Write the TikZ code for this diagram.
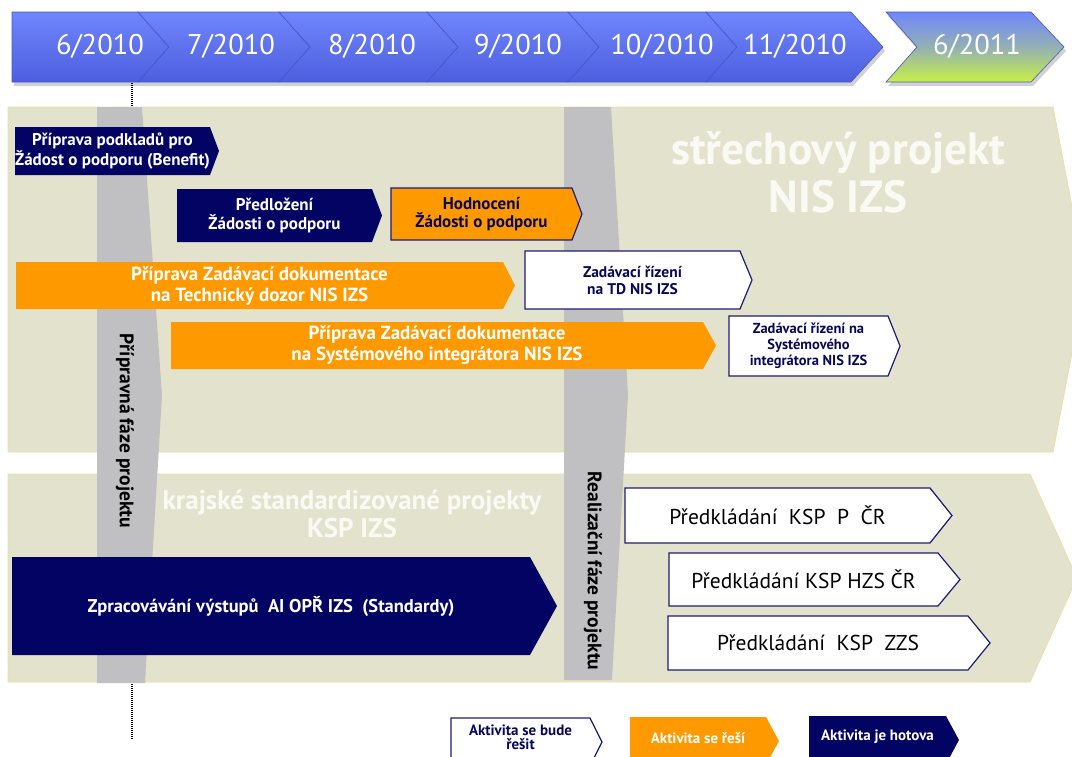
\documentclass[tikz,border=0pt]{standalone}
\usepackage{fontspec}
\setmainfont{PT Sans}
\usetikzlibrary{calc}
\definecolor{navy}{RGB}{3,3,100}
\definecolor{orangeC}{RGB}{255,153,0}
\definecolor{bandC}{RGB}{227,227,205}
\definecolor{bandline}{RGB}{234,224,165}
\definecolor{greybar}{RGB}{192,192,194}
\definecolor{boxline}{RGB}{28,28,120}
\definecolor{navytext}{RGB}{8,8,90}
\definecolor{tltop}{RGB}{112,134,252}
\definecolor{tlbot}{RGB}{76,94,222}
\definecolor{tledge}{RGB}{70,86,205}
\definecolor{limeC}{RGB}{200,240,70}
\definecolor{titleW}{RGB}{250,250,245}
\newcommand\actbox[9]{%
  \pgfmathsetmacro\ymid{(#7+#8)/2}%
  \pgfmathsetmacro\xmid{(#4+#5)/2}%
  \path[#2] (#4,#7) -- (#5,#7) -- (#6,\ymid) -- (#5,#8) -- (#4,#8) -- cycle;%
  \node[#3] (#1) at (\xmid,\ymid) {#9};%
}
\begin{document}
\begin{tikzpicture}[x=1pt,y=-1pt,
  navyfill/.style={fill=navy},
  orangefill/.style={fill=orangeC},
  orangeline/.style={fill=orangeC, draw=boxline, line width=1.2pt},
  whitefill/.style={fill=white, draw=boxline, line width=1.2pt},
  bfs/.style 2 args={font=\fontsize{#1}{#2}\bfseries\selectfont, align=center, inner sep=0pt},
  rfs/.style 2 args={font=\fontsize{#1}{#2}\selectfont, align=center, inner sep=0pt},
  wtxt/.style={text=white},
  ntxt/.style={text=navytext},
  ktxt/.style={text=black},
  tl/.style={top color=tltop, bottom color=tlbot, draw=tledge, line width=0.6pt},
  tllast/.style={top color=tltop, bottom color=limeC, middle color=tltop!60!limeC, draw=tledge, line width=0.6pt},
  tltext/.style={text=white, font=\fontsize{28.5}{30}\selectfont, inner sep=0pt},
  band/.style={fill=bandC, draw=bandline, line width=0.8pt},
  bar/.style={fill=greybar},
  bartext/.style={text=black, font=\fontsize{19.5}{20}\bfseries\selectfont, rotate=-90, inner sep=0pt},
  dotline/.style={draw=black, line width=1.4pt, dash pattern=on 1pt off 1pt},
  bigtitle/.style={text=titleW, align=center, inner sep=0pt}
]
\useasboundingbox (0,0) rectangle (1072,756);
\clip (0,0) rectangle (1072,756);
\fill[white] (0,0) rectangle (1072,756);

% ---- timeline ----
\fill[black, opacity=0.18] (14,16) -- (853,16) -- (885,51) -- (853,86) -- (14,86) -- cycle;
\fill[black, opacity=0.18] (888,16) -- (1033,16) -- (1066,51) -- (1033,86) -- (888,86) -- (919,51) -- cycle;
\path[tl] (12,12) -- (138,12) -- (169,47) -- (138,82) -- (12,82) -- cycle;
\path[tl] (138,12) -- (279,12) -- (310,47) -- (279,82) -- (138,82) -- (169,47) -- cycle;
\path[tl] (279,12) -- (427,12) -- (458,47) -- (427,82) -- (279,82) -- (310,47) -- cycle;
\path[tl] (427,12) -- (568,12) -- (599,47) -- (568,82) -- (427,82) -- (458,47) -- cycle;
\path[tl] (568,12) -- (706,12) -- (737,47) -- (706,82) -- (568,82) -- (599,47) -- cycle;
\path[tl] (706,12) -- (851,12) -- (883,47) -- (851,82) -- (706,82) -- (737,47) -- cycle;
\path[tllast] (886,12) -- (1031,12) -- (1064,47) -- (1031,82) -- (886,82) -- (917,47) -- cycle;
\node[tltext] (m1) at (100,46) {6/2010};
\node[tltext] (m2) at (231,46) {7/2010};
\node[tltext] (m3) at (372,46) {8/2010};
\node[tltext] (m4) at (518,46) {9/2010};
\node[tltext] (m5) at (662,46) {10/2010};
\node[tltext] (m6) at (795,46) {11/2010};
\node[tltext] (m7) at (977,46) {6/2011};

% ---- bands ----
\path[band] (8,107) -- (1053,107) -- (1086,280) -- (1053,452) -- (8,452) -- cycle;
\path[band] (8,474) -- (1030,474) -- (1077,578) -- (1030,682) -- (8,682) -- cycle;

% ---- phase bars ----
\path[bar] (97,107) -- (142,107) -- (162,395) -- (145,683) -- (97,683) -- cycle;
\path[bar] (564,107) -- (611,107) -- (628,395) -- (612,680) -- (564,680) -- cycle;
\node[bartext] (ph1) at (125,431) {Přípravná fáze projektu};
\node[bartext] (ph2) at (593,571) {Realizační fáze projektu};

% ---- dotted lines ----
\coordinate (da) at (132,83);
\coordinate (db) at (132,107);
\coordinate (dc) at (132,684);
\coordinate (dd) at (132,740);
\draw[dotline] (da) -- (db);
\draw[dotline] (dc) -- (dd);

% ---- titles ----
\node[bigtitle, font=\fontsize{45}{48}\bfseries\selectfont] (t1) at (838,172) {střechový projekt\\NIS IZS};
\node[bigtitle, font=\fontsize{27}{28}\bfseries\selectfont] (t2) at (352,514) {krajské standardizované projekty\\KSP IZS};

% ---- activities ----
\actbox{a1}{navyfill}{bfs={17}{16.5}, wtxt}{15}{210}{219}{127}{175}{Příprava podkladů pro\\Žádost o podporu (Benefit)}
\actbox{a2}{navyfill}{bfs={17}{18.5}, wtxt}{177}{372}{382}{189}{242}{Předložení\\Žádosti o podporu}
\actbox{a3}{orangeline}{bfs={17}{18.5}, ntxt}{391}{572}{582}{188}{240}{Hodnocení\\Žádosti o podporu}
\actbox{a4}{orangefill}{bfs={19}{21}, wtxt}{16}{503}{515}{262}{309}{Příprava Zadávací dokumentace\\na Technický dozor NIS IZS}
\actbox{a5}{whitefill}{bfs={15.5}{17}, ntxt}{525}{740}{752}{251}{309}{Zadávací řízení\\na TD NIS IZS}
\actbox{a6}{orangefill}{bfs={19}{21}, wtxt}{171}{703}{716}{322}{369}{Příprava Zadávací dokumentace\\na Systémového integrátora NIS IZS}
\actbox{a7}{whitefill}{bfs={14.5}{16}, ntxt}{729}{888}{900}{316}{376}{Zadávací řízení na\\Systémového\\integrátora NIS IZS}
\actbox{a8}{navyfill}{bfs={18.5}{20}, wtxt}{12}{530}{557}{557}{655}{Zpracovávání výstupů \ AI OPŘ IZS \ (Standardy)}
\actbox{a9}{whitefill}{rfs={21.5}{22}, ktxt}{625}{930}{952}{488}{543}{Předkládání \ KSP \ P \ ČR}
\actbox{a10}{whitefill}{rfs={21.5}{22}, ktxt}{669}{938}{960}{553}{606}{Předkládání KSP HZS ČR}
\actbox{a11}{whitefill}{rfs={21.5}{22}, ktxt}{668}{968}{990}{616}{670}{Předkládání \ KSP \ ZZS}

% ---- legend ----
\actbox{l1}{whitefill}{bfs={15}{14.5}, ntxt, yshift=4.5pt}{451}{590}{602}{718}{766}{Aktivita se bude\\řešit}
\actbox{l2}{orangefill}{bfs={15}{15}, wtxt, yshift=3pt}{630}{766}{779}{717}{765}{Aktivita se řeší}
\actbox{l3}{navyfill}{bfs={15}{15}, wtxt, yshift=3pt}{809}{946}{959}{716}{764}{Aktivita je hotova}
\end{tikzpicture}
\end{document}
